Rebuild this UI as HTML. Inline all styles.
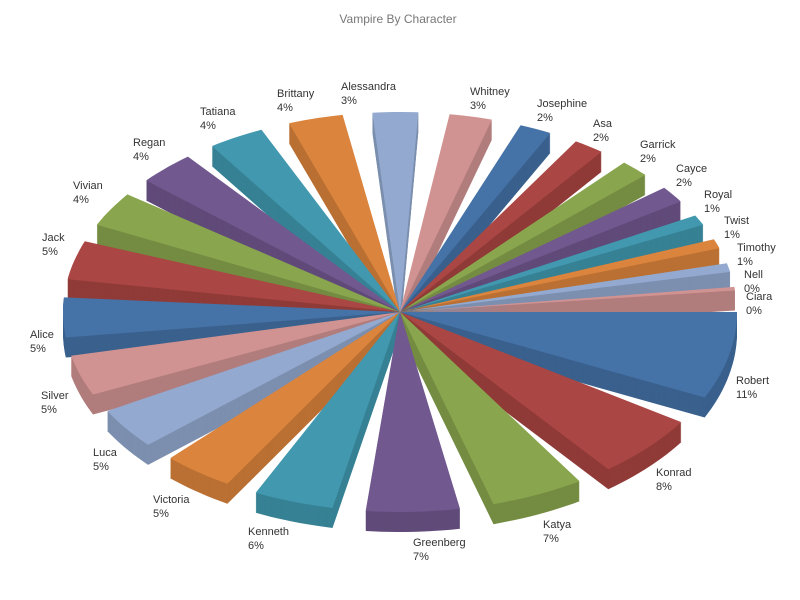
<!DOCTYPE html>
<html><head><meta charset="utf-8"><style>
body{margin:0;background:#fff;}
svg{display:block;font-family:"Liberation Sans",sans-serif;}
</style></head><body>
<svg id="s" width="800" height="600" xmlns="http://www.w3.org/2000/svg">
<text x="398" y="23" text-anchor="middle" font-size="12" fill="#777">Vampire By Character</text>
<g id="pie"></g>
<g font-size="11" fill="#333">
<text x="736" y="384">Robert</text><text x="736" y="398">11%</text>
<text x="656" y="476">Konrad</text><text x="656" y="490">8%</text>
<text x="543" y="528">Katya</text><text x="543" y="542">7%</text>
<text x="413" y="546">Greenberg</text><text x="413" y="560">7%</text>
<text x="248" y="535">Kenneth</text><text x="248" y="549">6%</text>
<text x="153" y="503">Victoria</text><text x="153" y="517">5%</text>
<text x="93" y="456">Luca</text><text x="93" y="470">5%</text>
<text x="41" y="399">Silver</text><text x="41" y="413">5%</text>
<text x="30" y="338">Alice</text><text x="30" y="352">5%</text>
<text x="42" y="241">Jack</text><text x="42" y="255">5%</text>
<text x="73" y="189">Vivian</text><text x="73" y="203">4%</text>
<text x="133" y="146">Regan</text><text x="133" y="160">4%</text>
<text x="200" y="115">Tatiana</text><text x="200" y="129">4%</text>
<text x="277" y="97">Brittany</text><text x="277" y="111">4%</text>
<text x="341" y="90">Alessandra</text><text x="341" y="104">3%</text>
<text x="470" y="95">Whitney</text><text x="470" y="109">3%</text>
<text x="537" y="107">Josephine</text><text x="537" y="121">2%</text>
<text x="593" y="127">Asa</text><text x="593" y="141">2%</text>
<text x="640" y="148">Garrick</text><text x="640" y="162">2%</text>
<text x="676" y="172">Cayce</text><text x="676" y="186">2%</text>
<text x="704" y="198">Royal</text><text x="704" y="212">1%</text>
<text x="724" y="224">Twist</text><text x="724" y="238">1%</text>
<text x="737" y="251">Timothy</text><text x="737" y="265">1%</text>
<text x="744" y="278">Nell</text><text x="744" y="292">0%</text>
<text x="746" y="300">Ciara</text><text x="746" y="314">0%</text>
</g>
</svg>
<script>
var vals=[11,8,7,7,6,5.3,5.2,5.1,5,4.9,4.4,4.3,4.2,4.1,3.4,3.2,2.4,2.3,2.2,2.1,1.3,1.2,1.1,0.45,0.02];
var cols=["#4572A7","#AA4643","#89A54E","#71588F","#4198AF","#DB843D","#93A9CF","#D19392"];
function dark(h,f){var n=parseInt(h.slice(1),16);var r=(n>>16)*f|0,g=(n>>8&255)*f|0,b=(n&255)*f|0;return "rgb("+r+","+g+","+b+")";}
var tot=vals.reduce(function(a,b){return a+b},0);
var cx=400,cy=312,rx=337,ry=200,D=20;
var R=Math.PI/180;
var G=3.9*R;
var K=(2*Math.PI-24.5*G)/tot;
function remap(t){var d=t/R;var P=[[0,0],[87,86],[268,265],[360,360]];
 for(var i=0;i<3;i++){if(d<=P[i+1][0]){var f=(d-P[i][0])/(P[i+1][0]-P[i][0]);return (P[i][1]+f*(P[i+1][1]-P[i][1]))*R;}}return t;}
var sl=[],a=0;
vals.forEach(function(v,i){var a0=a,a1=a+v*K;a=a1+G;var m=(a0+a1)/2;var hw=(a1-a0)/2*0.88;
 if(i==0){a0=0;a1=2*hw;} else {m=remap(m);a0=m-hw;a1=m+hw;}
 sl.push({a0:a0,a1:a1,m:m,c:cols[i%8],ox:cx,oy:cy});});
function path(s,dy){var p="M"+s.ox+","+(s.oy+dy);var n=Math.max(2,Math.ceil((s.a1-s.a0)*40));
 for(var k=0;k<=n;k++){var t=s.a0+(s.a1-s.a0)*k/n;p+="L"+(s.ox+rx*Math.cos(t)).toFixed(1)+","+(s.oy+dy+ry*Math.sin(t)).toFixed(1);}return p+"Z";}
var order=sl.slice(0,24).sort(function(p,q){return Math.sin(p.m)-Math.sin(q.m);});
var h="";
order.forEach(function(s){for(var d=D;d>0;d--){h+='<path d="'+path(s,d)+'" fill="'+dark(s.c,0.85)+'"/>';}
 h+='<path d="'+path(s,0)+'" fill="'+s.c+'"/>';});
document.getElementById("pie").innerHTML=h;
</script>
</body></html>
